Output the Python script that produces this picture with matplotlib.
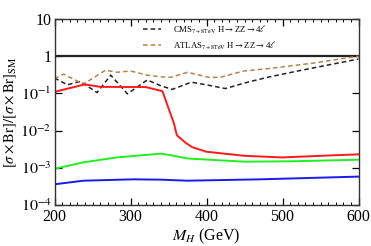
import matplotlib
matplotlib.use("Agg")
import matplotlib.pyplot as plt
from matplotlib.ticker import MultipleLocator, NullLocator

plt.rcParams['font.family'] = ['Liberation Serif', 'DejaVu Serif']
plt.rcParams['mathtext.fontset'] = 'stix'

# CMS / ATLAS observed limits (dashed)
cms_m = [200, 217, 234, 256, 274, 296, 322, 340, 355, 380, 400, 425, 450, 480, 520, 560, 600]
cms_y = [0.26, 0.17, 0.21, 0.105, 0.31, 0.097, 0.23, 0.16, 0.128, 0.2, 0.17, 0.135, 0.19, 0.27, 0.4, 0.58, 0.84]
atlas_m = [200, 212, 238, 267, 282, 300, 322, 339, 353, 375, 403, 418, 449, 484, 540, 600]
atlas_y = [0.25, 0.33, 0.177, 0.42, 0.37, 0.40, 0.31, 0.28, 0.27, 0.37, 0.27, 0.27, 0.40, 0.47, 0.65, 1.0]

# model curves (solid)
red_m = [200, 240, 260, 320, 342, 350, 357, 361, 372, 381, 400, 450, 500, 550, 600]
red_y = [0.11, 0.175, 0.15, 0.148, 0.115, 0.04, 0.016, 0.0075, 0.0048, 0.0036, 0.0027, 0.0021, 0.0019, 0.0021, 0.0023]
green_m = [200, 238, 282, 340, 352, 375, 450, 515, 600]
green_y = [0.00094, 0.0014, 0.0019, 0.0024, 0.0022, 0.00178, 0.00146, 0.0015, 0.00165]
blue_m = [200, 238, 304, 340, 375, 471, 600]
blue_y = [0.00036, 0.00045, 0.00049, 0.00048, 0.00045, 0.00049, 0.00058]

yticks = [1e-4, 1e-3, 1e-2, 1e-1, 1, 10]
ylabels = [r'$10^{-4}$', r'$10^{-3}$', r'$10^{-2}$', r'$10^{-1}$', '1', '10']

fig = plt.figure(figsize=(3.71, 2.46), dpi=100)
ax = fig.add_axes([54.5/371, 41/246, 304/371, 186/246])

ax.axhline(1, color='#222222', lw=1.6)
ax.plot(cms_m, cms_y, '--', color='#222222', lw=1.1, dashes=(3, 2),
        label=r'CMS$_{7+8\mathrm{TeV}}$ H$\rightarrow$ZZ$\rightarrow$4$\ell$')
ax.plot(atlas_m, atlas_y, '--', color='#b5834f', lw=1.1, dashes=(3, 2),
        label=r'ATLAS$_{7+8\mathrm{TeV}}$ H$\rightarrow$ZZ$\rightarrow$4$\ell$')
ax.plot(red_m, red_y, color='#ff1a1a', lw=1.4)
ax.plot(green_m, green_y, color='#22ee22', lw=1.4)
ax.plot(blue_m, blue_y, color='#1a1aee', lw=1.4)

ax.set_yscale('log')
ax.set_xlim(200, 600)
ax.set_ylim(1e-4, 10)
ax.xaxis.set_major_locator(MultipleLocator(100))
ax.xaxis.set_minor_locator(MultipleLocator(10))
ax.set_yticks(yticks)
ax.set_yticklabels(ylabels)
ax.yaxis.set_minor_locator(NullLocator())
ax.tick_params(which='both', direction='in', top=True, right=True, labelsize=11.5, pad=2)
ax.tick_params(axis='x', pad=3)
ax.tick_params(which='major', length=5, width=0.9)
ax.tick_params(which='minor', length=2.5, width=0.7)
for s in ax.spines.values():
    s.set_linewidth(1.0)
    s.set_color('#333333')

ax.set_xlabel(r'$M_H$ (GeV)', fontsize=11.5, labelpad=1)
ax.set_ylabel(r'$[\sigma\times\mathrm{Br}]/[\sigma\times\mathrm{Br}]_{\mathrm{SM}}$', fontsize=10.5, labelpad=1)

ax.legend(loc='upper left', bbox_to_anchor=(0.28, 0.995), frameon=False, fontsize=6.3,
          handlelength=2.0, borderaxespad=0.0, labelspacing=0.45, handletextpad=1.4)

fig.savefig('out.png', dpi=100)
